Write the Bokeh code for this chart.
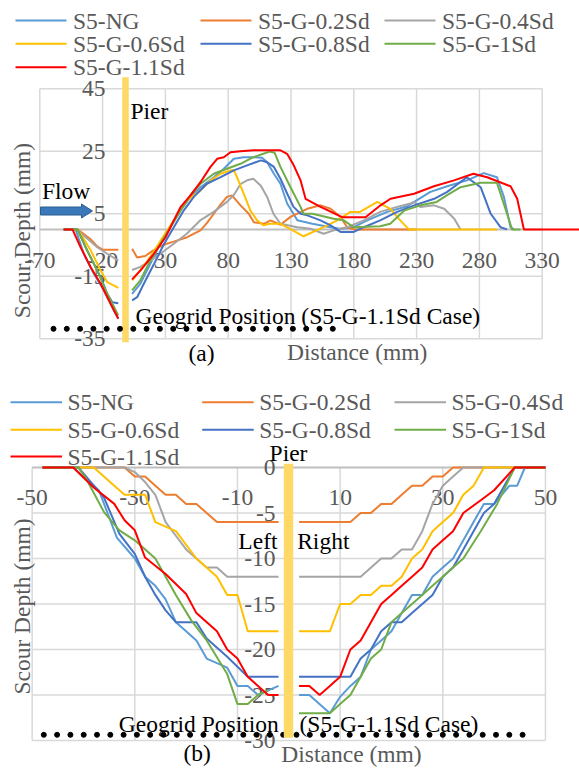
import numpy as np
from bokeh.plotting import figure
from bokeh.layouts import column
from bokeh.core.properties import value
from bokeh.embed import file_html
from bokeh.resources import INLINE

nan = float("nan")

series_names = ["S5-NG", "S5-G-0.2Sd", "S5-G-0.4Sd", "S5-G-0.6Sd",
                "S5-G-0.8Sd", "S5-G-1Sd", "S5-G-1.1Sd"]
series_colors = ["#5B9BD5", "#ED7D31", "#A5A5A5", "#FFC000",
                 "#4472C4", "#70AD47", "#FF0000"]

# ---------------- (a) longitudinal profiles (distance, depth) ----------------
a_xticks = [-70, -20, 30, 80, 130, 180, 230, 280, 330]
a_yticks = [-35, -15, 5, 25, 45]

a_ng_x = [-51, -41.5, -35, -27, -19, -11, -7.5, nan,
          3.5, 10, 18, 26, 34, 42, 50, 58, 68.5, 76.5, 84.5, 92.4, 100, 107, 111, 116.4,
          121.6, 127, 132, 135, 147, 161.5, 169, 180, 190.7, 206.6, 222.5, 230, 241,
          254.4, 270, 283.5, 294, 299.5, 304.8, 307.5]
a_ng_y = [0, 0, -7.8, -14.2, -19.5, -26, -28.5, nan,
          -20.6, -17.4, -11, -4.6, 0.7, 6, 10.4, 13.5, 16.7, 19.4, 22.6, 23.1, 23.1, 22.9, 21.5, 17.8,
          14.6, 8.2, 5, 2.9, 1.8, 0.7, 0.2, 0.7, 2.9, 5.6, 7.4, 9.3, 12,
          13.8, 15.7, 18, 16.7, 10.4, 0.7, 0]

a_g02_x = [-51, -40, -30, -24, -20, -7.5, nan,
           3.5, 7.5, 14, 20, 28, 36, 47.4, 57.9, 63, 68.5, 74, 79, 83, 89.8, 96.4, 100.4,
           108.4, 113.7, 121.6, 129.6, 137.6, 142.9, 153.5, 161.5, 169.4, 174.7, 180, 230]
a_g02_y = [0, 0, -3, -5.5, -6.5, -6.5, nan,
           -6.2, -9, -8.5, -6.8, -5, -4, -2.5, -0.3, 2, 5, 8, 10.4, 10.9, 7.7, 5, 2.3,
           1.8, 2.9, 1.5, 4, 5.5, 6.6, 7.7, 6.6, 4, 0.7, 0, 0]

a_g04_x = [-51, -41, -32, -24.3, -16.3, -7.5, nan,
           3.5, 10, 18, 26, 36.7, 47, 58, 68.5, 79, 84.5, 90, 95, 100, 106, 111, 116,
           121.6, 135, 145.6, 156, 164, 174.7, 188, 201, 214.5, 225, 228, 233, 243.8,
           252, 260, 265]
a_g04_y = [0, 0, -3, -5.7, -7.8, -10, nan,
           -13, -12, -10, -7.8, -4.6, -1.4, 3, 5.6, 8.8, 11, 14.6, 15.7, 16.2, 14, 10.4, 5,
           1.8, 0.7, 0.2, -1.4, -0.3, 0.7, 2.9, 5.6, 7.2, 8.3, 8.8, 7.2, 7.7,
           6.6, 3.4, 0]

a_g06_x = [-51, -39.7, -29.5, -21.6, -16.3, -7.5, nan,
           3.5, 10, 16, 24, 32, 40, 47.4, 58, 66, 74, 81.8, 84.5, 87, 92.4, 97.7, 103,
           108, 113, 121.6, 130, 140, 156, 166.8, 177.4, 185, 198.7, 209, 217, 223.8, 294]
a_g06_y = [0, 0, -6.7, -13.1, -16.9, -18.7, nan,
           -16.3, -13, -9.9, -5, 0, 5, 9.3, 12.5, 15.7, 17.8, 18.9, 18.9, 16.7, 11.4, 6, 2.9,
           1.3, 1.8, 1.8, 0, -2.2, 0.7, 2.9, 5.6, 5.6, 8.8, 6.6, 2.9, 0, 0]

a_g08_x = [-51, -40, -32.3, -21.6, -16.3, -12.3, -7.5, nan,
           3.5, 7.5, 12.8, 21, 29, 36.7, 44.7, 52.6, 63, 74, 84.5, 95, 106, 111, 116.4,
           121.6, 127, 132, 137.6, 143, 153.5, 161.5, 169.4, 180, 188, 201, 214.5, 228,
           244, 254.4, 270, 281, 289, 296.8, 302]
a_g08_y = [0, 0, -6.7, -15.3, -20.6, -23.3, -23.6, nan,
           -22.7, -21.7, -17.4, -11, -4.6, 0.7, 6.1, 10.4, 14.6, 16.7, 18.9, 20.5, 22.1, 21.5, 20,
           16.2, 11.4, 7.2, 5, 4.5, 2.9, 1.3, -0.8, -0.8, 0.7, 2.9, 5.6, 7.7,
           9.8, 12, 16.7, 13.5, 5, 0.7, 0]

a_g1_x = [-51, -40, -33.6, -24.3, -16.3, -7.5, nan,
          3.5, 10, 18, 26, 34, 42, 50, 58, 68.5, 79, 89.8, 100, 108, 113, 117, 121.6,
          129.6, 137.6, 140, 147, 164, 172, 180, 201, 209, 220, 233, 246, 254, 265,
          281, 294, 302, 306, 312.7]
a_g1_y = [0, 0, -5.7, -13.1, -20.6, -27.5, nan,
          -19.5, -16.3, -9.9, -4.6, 0.7, 6, 11, 14.6, 17.8, 19.4, 21, 23.1, 24.2, 24.9, 24.5, 20,
          13.5, 7.2, 5, 5, 3.4, 2.9, 0.7, 1, 1.8, 6, 7.7, 8.8, 10.9, 13.5,
          14.9, 14.9, 5, 0, 0]

a_g11_x = [-51, -44, -37.5, -29.5, -21.6, -13.6, -7.5, nan,
           3.5, 10.2, 20.8, 30.1, 36.7, 42, 50, 57.9, 65.9, 71.2, 76.5, 81.8, 89.8, 100.4,
           121.6, 126.9, 132.2, 137.6, 141.6, 153.5, 170.7, 189.3, 201.3, 209.2, 228,
           243.8, 259.8, 275.2, 286.2, 304.8, 310.1, 315.4, 362]
a_g11_y = [0, 0, -5.7, -12.1, -17.4, -23.8, -28.6, nan,
           -16, -13.1, -7.8, -2.5, 2.9, 7.1, 10.9, 15.1, 20, 22.6, 23.1, 24.7, 25, 25.3,
           25.3, 24.2, 20.5, 15.7, 9.8, 7.2, 3.9, 3.9, 7.7, 9.8, 11.4,
           13.8, 15.7, 17.8, 16.7, 13.8, 9.8, 0, 0]

# ---------------- (b) transverse profiles (distance, depth) ----------------
b_xticks = [-50, -30, -10, 10, 30, 50]
b_yticks = [0, -5, -10, -15, -20, -25, -30]

b_ng_x = [-48, -42, -37, -33.5, -30, -28, -26, -24, -22, -20, -18, -16, -12, -10, -8, -6, -4, -2, nan,
          2, 4, 8, 10, 12, 14, 16, 18, 20, 22, 24, 26, 28, 30, 32, 34, 36, 38, 40, 43, 44.5, 46, 50]
b_ng_y = [0, 0, -2.5, -7.7, -10, -12, -13, -14.5, -17, -18, -19, -21, -22, -24, -24, -25, -24.5, -24, nan,
          -25, -25, -27, -25.2, -24, -23, -20, -19, -18, -16, -14, -14, -12, -11, -10, -8, -6, -4, -4, -2, -2, 0, 0]

b_g02_x = [-48, -32, -30, -28, -26, -24, -22, -20, -18, -16, -14, -2, nan,
           2, 12, 14, 16, 18, 20, 22, 24, 26, 28, 30, 32, 50]
b_g02_y = [0, 0, -1, -1, -2, -3, -3, -4, -4, -5, -6, -6, nan,
           -6, -6, -5, -5, -4, -4, -3, -2, -2, -1, -1, 0, 0]

b_g04_x = [-48, -32, -30, -28, -26, -24, -22, -20, -18, -16, -14, -12, -2, nan,
           2, 14, 18, 20, 22, 24, 26, 28, 30, 32, 34, 50]
b_g04_y = [0, 0, -0.5, -1.6, -3, -6, -7.5, -9, -10, -11, -11, -12, -12, nan,
           -12, -12, -10, -10, -9, -9, -7, -4, -2, -1, 0, 0]

b_g06_x = [-48, -38, -34, -32, -28, -26, -22, -18, -14, -12, -10, -8, -2, nan,
           2, 8, 10, 12, 14, 16, 18, 20, 22, 24, 26, 28, 30, 32, 34, 36, 38, 50]
b_g06_y = [0, 0, -2, -3, -3, -6, -7, -10, -12, -14, -14, -18, -18, nan,
           -18, -18, -15, -15, -14, -14, -13, -13, -12, -10, -9, -7, -6, -5, -3, -2, 0, 0]

b_g08_x = [-48, -41, -36, -33, -30, -28, -26, -24, -22, -18, -16, -12, -8, -2, nan,
           2, 12, 14, 16, 18, 20, 22, 24, 26, 28, 30, 32, 34, 36, 38, 40, 42, 44, 50]
b_g08_y = [0, 0, -3.3, -7.3, -9.5, -12, -14, -15.7, -17, -17, -18.8, -20.8, -23, -23, nan,
           -23, -23, -21, -20, -18, -17, -17, -16, -15, -14, -12, -11, -9, -7, -5, -4, -2, 0, 0]

b_g1_x = [-48, -41, -39.6, -36, -33, -30, -26, -24, -22, -19, -16, -12, -10, -8, -6, -4, nan,
          2, 8, 10, 12, 14, 16, 18, 20, 22, 24, 26, 28, 30, 32, 34, 37.4, 40.6, 44, 50]
b_g1_y = [0, 0, -1.1, -4.9, -6.9, -8, -10, -12, -14, -16.8, -19, -22.7, -26, -26, -25, -24.5, nan,
          -27, -27, -26, -25, -23, -21, -20, -17, -16, -15, -14, -13, -12, -11, -10, -7, -4, 0, 0]

b_g11_x = [-48, -42, -38, -34, -32, -30, -28, -24, -20, -18, -14, -12, -10, -8, -6, -4, -2, nan,
           2, 4, 6, 8, 10, 12, 14, 18, 20, 22, 24, 26, 28, 30, 32, 34, 37.4, 40, 44, 50]
b_g11_y = [0, 0, -2.2, -4, -5.8, -6.9, -9.9, -11.7, -13.9, -16, -18, -20, -21, -23, -24, -25, -25, nan,
           -24, -24, -25, -24, -23, -20, -19, -15, -14, -13, -12, -11, -9, -8, -7, -5, -3.6, -2.5, 0, 0]

a_series = [(a_ng_x, a_ng_y), (a_g02_x, a_g02_y), (a_g04_x, a_g04_y), (a_g06_x, a_g06_y),
            (a_g08_x, a_g08_y), (a_g1_x, a_g1_y), (a_g11_x, a_g11_y)]
b_series = [(b_ng_x, b_ng_y), (b_g02_x, b_g02_y), (b_g04_x, b_g04_y), (b_g06_x, b_g06_y),
            (b_g08_x, b_g08_y), (b_g1_x, b_g1_y), (b_g11_x, b_g11_y)]

# ---------------- styling / layout ----------------
W = 579
HA, HB = 366, 405
FONT = value("Liberation Serif")
FS = value("23.5px")
GRID = "#D9D9D9"
AXIS = "#BFBFBF"
TXT = "#595959"


def txt(p, x, y, s, color="black", align="left", angle=0.0):
    p.text(x=[x], y=[y], text=[s], text_font=FONT, text_font_size=FS,
           text_color=color, text_align=align, text_baseline="middle", angle=angle)


def legend(p, fx, fy, rows, cols, glen, gap):
    for i, (name, color) in enumerate(zip(series_names, series_colors)):
        r, c = divmod(i, 3)
        p.segment(x0=[fx(cols[c])], x1=[fx(cols[c] + glen)], y0=[fy(rows[r])], y1=[fy(rows[r])],
                  line_color=color, line_width=2)
        txt(p, fx(cols[c] + glen + gap), fy(rows[r]), name, color=TXT)


def make_fig(fx, fy, h, top_px):
    p = figure(width=W, height=h,
               x_range=(fx(0), fx(W)), y_range=(fy(top_px + h), fy(top_px)),
               x_axis_location=None, y_axis_location=None,
               toolbar_location=None, output_backend="svg",
               min_border=0, outline_line_color=None)
    p.xgrid.visible = False
    p.ygrid.visible = False
    return p


# ---- figure (a) ----
def ax(px):
    return -70 + (px - 39.3) / 1.256


def ay(py):
    return (228.9 - py) / 3.125


pa = make_fig(ax, ay, HA, 0)
pa.segment(x0=a_xticks, x1=a_xticks, y0=[min(a_yticks)] * len(a_xticks), y1=[max(a_yticks)] * len(a_xticks),
           line_color=GRID, line_width=1.5)
pa.segment(x0=[min(a_xticks)] * len(a_yticks), x1=[max(a_xticks)] * len(a_yticks), y0=a_yticks, y1=a_yticks,
           line_color=GRID, line_width=1.5)
pa.segment(x0=[min(a_xticks)], x1=[max(a_xticks)], y0=[0], y1=[0], line_color=AXIS, line_width=2)

# tick labels (under the series, as in the original)
pa.text(x=a_xticks, y=[ay(260)] * len(a_xticks), text=[str(v) for v in a_xticks],
        text_font=FONT, text_font_size=FS, text_color=TXT, text_align="center", text_baseline="middle")
pa.text(x=[ax(105)] * len(a_yticks), y=a_yticks, text=[str(v) for v in a_yticks],
        text_font=FONT, text_font_size=FS, text_color=TXT, text_align="right", text_baseline="middle")

for (xs, ys), c in zip(a_series, series_colors):
    pa.line(xs, ys, line_color=c, line_width=2)

# pier
pa.quad(left=[ax(121.7)], right=[ax(128.3)], bottom=[ay(341.7)], top=[ay(76.7)],
        fill_color="#FFD966", line_color=None)
txt(pa, ax(130), ay(110), "Pier")

# flow arrow
arrow_px = [40, 81, 81, 92, 81, 81, 40]
arrow_py = [206.5, 206.5, 203.5, 210.5, 217.5, 214.5, 214.5]
pa.patch([ax(v) for v in arrow_px], [ay(v) for v in arrow_py],
         fill_color="#3A78BA", line_color="#2F5C8F", line_width=1)
txt(pa, ax(41.5), ay(190), "Flow")

# geogrid
dots_a = np.arange(53, 333, 13.3)
pa.scatter([ax(v) for v in dots_a], [ay(328.3)] * len(dots_a), size=5, color="black")
txt(pa, ax(135), ay(315), "Geogrid Position (S5-G-1.1Sd Case)")

txt(pa, ax(356.7), ay(351), "Distance (mm)", color=TXT, align="center")
txt(pa, ax(21), ay(230), "Scour,Depth (mm)", color=TXT, align="center", angle=np.pi / 2)
txt(pa, ax(201), ay(352), "(a)", align="center")

legend(pa, ax, ay, [20, 43.3, 66.7], [15, 200, 384], 51, 6.5)


# ---- figure (b) ----
def bx(px):
    return (px - 288.3) / 5.133


def by(py):
    return -(py - 467) / 9.1


pb = make_fig(bx, by, HB, HA)
pb.segment(x0=b_xticks, x1=b_xticks, y0=[min(b_yticks)] * len(b_xticks), y1=[max(b_yticks)] * len(b_xticks),
           line_color=GRID, line_width=1.5)
gy = [v for v in b_yticks if v != 0]
pb.segment(x0=[min(b_xticks)] * len(gy), x1=[max(b_xticks)] * len(gy), y0=gy, y1=gy,
           line_color=GRID, line_width=1.5)
pb.segment(x0=[min(b_xticks)], x1=[max(b_xticks)], y0=[0], y1=[0], line_color=AXIS, line_width=2)

pb.text(x=b_xticks, y=[by(496.7)] * len(b_xticks), text=[str(v) for v in b_xticks],
        text_font=FONT, text_font_size=FS, text_color=TXT, text_align="center", text_baseline="middle")
pb.text(x=[bx(275)] * len(b_yticks), y=b_yticks, text=[str(v) for v in b_yticks],
        text_font=FONT, text_font_size=FS, text_color=TXT, text_align="right", text_baseline="middle")

for (xs, ys), c in zip(b_series, series_colors):
    pb.line(xs, ys, line_color=c, line_width=2)

dots_b = np.arange(43.3, 526, 13.3)
pb.scatter([bx(v) for v in dots_b], [by(734.3)] * len(dots_b), size=5, color="black")
txt(pb, bx(118.3), by(723.3), "Geogrid Position")
txt(pb, bx(299), by(723.3), "(S5-G-1.1Sd Case)")

pb.quad(left=[bx(283.3)], right=[bx(292.7)], bottom=[by(737.3)], top=[by(463.3)],
        fill_color="#FFD966", line_color=None)
txt(pb, bx(288), by(452), "Pier", align="center")
txt(pb, bx(277), by(540), "Left", align="right")
txt(pb, bx(296.7), by(540), "Right")

txt(pb, bx(351), by(753), "Distance (mm)", color=TXT, align="center")
txt(pb, bx(21), by(606), "Scour Depth (mm)", color=TXT, align="center", angle=np.pi / 2)
txt(pb, bx(196.7), by(752), "(b)", align="center")

legend(pb, bx, by, [401.7, 429.3, 456], [10, 201.7, 394], 51.5, 5.5)

layout = column(pa, pb)
open("out.html", "w").write(file_html(layout, INLINE))
